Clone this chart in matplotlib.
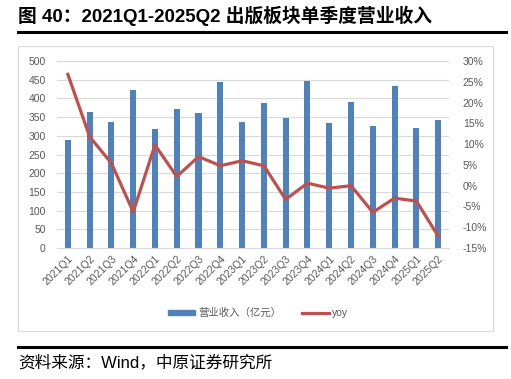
import matplotlib.pyplot as plt
from matplotlib.patches import Rectangle
from matplotlib.lines import Line2D
from matplotlib.ticker import FuncFormatter
import numpy as np

plt.rcParams['font.family'] = ['Liberation Sans', 'Noto Sans CJK SC', 'DejaVu Sans']

quarters = ['2021Q1', '2021Q2', '2021Q3', '2021Q4', '2022Q1', '2022Q2', '2022Q3', '2022Q4',
            '2023Q1', '2023Q2', '2023Q3', '2023Q4', '2024Q1', '2024Q2', '2024Q3', '2024Q4',
            '2025Q1', '2025Q2']
revenue = [289, 363, 337, 423, 317, 371, 361, 444, 337, 388, 348, 447, 334, 390, 325, 433, 322, 342]
yoy = [26.8, 11.8, 5.4, -6.3, 9.8, 2.2, 7.0, 4.8, 6.0, 4.8, -3.3, 0.6, -0.6, 0.0, -6.4, -3.0, -3.7, -12.1]

BLUE = '#4F81BD'
RED = '#C0504D'
GRID = '#D9D9D9'
TXT = '#595959'

fig = plt.figure(figsize=(5.11, 3.79), dpi=100)

# title + rules
fig.text(0.035, 0.958, '图 40：2021Q1-2025Q2 出版板块单季度营业收入', fontsize=13.5,
         fontweight='bold', ha='left', va='center')
fig.add_artist(Line2D([0.035, 0.99], [0.915, 0.915], color='black', lw=2.2))
fig.add_artist(Line2D([0.035, 0.99], [0.085, 0.085], color='black', lw=2.2))
fig.text(0.035, 0.043, '资料来源：Wind，中原证券研究所', fontsize=12, ha='left', va='center')

# chart frame
fig.add_artist(Rectangle((0.036, 0.127), 0.928, 0.752, transform=fig.transFigure,
                         fill=False, edgecolor='#D9D9D9', lw=0.8))

ax = fig.add_axes([0.1115, 0.3456, 0.7672, 0.4934])
x = np.arange(len(quarters))
ax.bar(x, revenue, width=0.28, color=BLUE, zorder=2)
ax.set_ylim(0, 500)
ax.set_yticks(range(0, 501, 50))
ax.set_xlim(-0.5, len(quarters) - 0.5)
ax.set_xticks(x)
ax.set_xticklabels(quarters, rotation=45, ha='right', rotation_mode='anchor')
ax.grid(axis='y', color=GRID, lw=0.8, zorder=0)
for s in ax.spines.values():
    s.set_visible(False)
ax.spines['bottom'].set_visible(True)
ax.spines['bottom'].set_color(GRID)
ax.tick_params(axis='both', length=0, labelsize=7.5, labelcolor=TXT)
ax.tick_params(axis='x', pad=4)
ax.tick_params(axis='y', pad=8)

ax2 = ax.twinx()
ax2.plot(x, yoy, color=RED, lw=2.3, zorder=3)
ax2.set_ylim(-15, 30)
ax2.set_yticks(range(-15, 31, 5))
ax2.yaxis.set_major_formatter(FuncFormatter(lambda v, p: f'{int(v)}%'))
for s in ax2.spines.values():
    s.set_visible(False)
ax2.tick_params(axis='y', length=0, labelsize=7.5, labelcolor=TXT, pad=10)

handles = [Rectangle((0, 0), 1, 1, color=BLUE), Line2D([0], [0], color=RED, lw=2.3)]
leg = fig.legend(handles, ['营业收入（亿元）', 'yoy'], loc='center', bbox_to_anchor=(0.505, 0.174),
                 ncol=2, frameon=False, fontsize=7.5, handlelength=2.6, handleheight=0.5,
                 columnspacing=2.0, handletextpad=0.3)
for t in leg.get_texts():
    t.set_color(TXT)

fig.savefig('out.png', dpi=100)
